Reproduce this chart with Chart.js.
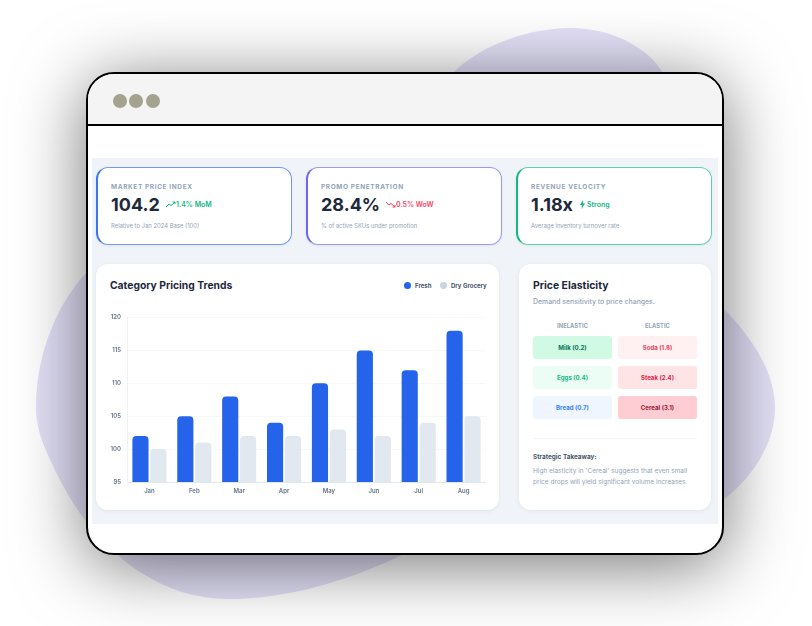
<!DOCTYPE html>
<html>
<head>
<meta charset="utf-8">
<script src="https://cdn.jsdelivr.net/npm/chart.js@4"></script>
<style>
  * { box-sizing: border-box; margin: 0; padding: 0; }
  body { width: 812px; height: 626px; background: #fff; font-family: Inter, sans-serif; position: relative; overflow: hidden; }
  .blob { position: absolute; left: 0; top: 0; }
  .window { position: absolute; left: 86px; top: 72px; width: 638px; height: 483px; background: #fff; border: 2px solid #000; border-radius: 28px; box-shadow: 0 10px 70px rgba(0,0,0,.55); overflow: hidden; }
  .bar { position: absolute; left: 0; top: 0; width: 100%; height: 52px; background: #f4f4f4; border-bottom: 2px solid #000; }
  .dot { position: absolute; top: 20px; width: 14px; height: 14px; border-radius: 50%; background: #a3a38f; }
  .dash { position: absolute; left: 4px; top: 84px; width: 626px; height: 366px; background: #f0f4f9; }
  .abs { position: absolute; white-space: nowrap; }
  .kpi { position: absolute; top: 167px; width: 196px; height: 78px; background: #fff; border: 1px solid; border-left-width: 2px; border-radius: 12px; box-shadow: 0 1px 3px rgba(30,41,59,.06); }
  .kpi .lab { position: absolute; left: 13px; top: 14.500px; font-size: 6.500px; font-weight: 700; letter-spacing: .62px; color: #94a3b8; white-space: nowrap; }
  .kpi .val { position: absolute; left: 13px; top: 25px; font-size: 18px; font-weight: 700; line-height: 24px; color: #1e293b; white-space: nowrap; }
  .kpi .chg { position: absolute; top: 32px; font-size: 7px; font-weight: 600; line-height: 10px; white-space: nowrap; }
  .kpi .chg svg { position: absolute; left: -10px; top: 1px; }
  .kpi .sub { position: absolute; left: 13px; top: 54px; font-size: 5.900px; color: #94a3b8; white-space: nowrap; }
  .card { position: absolute; top: 264px; height: 246px; background: #fff; border-radius: 12px; box-shadow: 0 1px 4px rgba(30,41,59,.07); }
  .cell { position: absolute; width: 79px; height: 23px; border-radius: 3px; font-size: 6.100px; font-weight: 700; line-height: 23px; text-align: center; }
  .head { font-size: 5.700px; font-weight: 700; color: #94a3b8; letter-spacing: .1px; text-align: center; width: 79px; }
  .sw { position: absolute; top: 282px; width: 7px; height: 7px; border-radius: 50%; }
  .lg { font-size: 6px; font-weight: 700; color: #475569; }
</style>
</head>
<body>
<svg class="blob" width="812" height="626">
  <path fill="#e4e1f8" d="M453 73 C480 45 530 28 570 28 C615 28 650 50 663 73 C690 130 700 270 723 308 C755 340 775 375 775 408 C775 445 750 480 723 500 C650 530 480 530 404 554 C340 585 280 599 228 599 C150 599 90 540 60 480 C45 450 36 430 36 408 C36 350 60 300 87 272 Z"/>
</svg>
<div class="window">
  <div class="bar">
    <div class="dot" style="left:25px"></div>
    <div class="dot" style="left:41px"></div>
    <div class="dot" style="left:58px"></div>
  </div>
  <div class="dash"></div>
</div>

<div class="kpi" style="left:96px;border-color:#6f9bf5 #6f9bf5 #6f9bf5 #3b76f0">
  <div class="lab">MARKET PRICE INDEX</div>
  <div class="val">104.2</div>
  <div class="chg" style="left:78px;color:#10b981">
    <svg width="10" height="7" viewBox="0 0 10 7" fill="none" stroke="#10b981" stroke-width="1"><path d="M0 6 L3 3 L5 4.500 L9 1 M6.500 1 H9 V3"/></svg>1.4% MoM</div>
  <div class="sub">Relative to Jan 2024 Base (100)</div>
</div>
<div class="kpi" style="left:306px;border-color:#9a97f5 #9a97f5 #9a97f5 #6d68ef">
  <div class="lab">PROMO PENETRATION</div>
  <div class="val">28.4%</div>
  <div class="chg" style="left:88px;color:#f43f5e">
    <svg width="10" height="7" viewBox="0 0 10 7" fill="none" stroke="#f43f5e" stroke-width="1"><path d="M0 1 L3 4 L5 2.500 L9 6 M6.500 6 H9 V4"/></svg>0.5% WoW</div>
  <div class="sub">% of active SKUs under promotion</div>
</div>
<div class="kpi" style="left:516px;border-color:#5fd0ab #5fd0ab #5fd0ab #10b981">
  <div class="lab">REVENUE VELOCITY</div>
  <div class="val">1.18x</div>
  <div class="chg" style="left:69px;color:#10b981">
    <svg width="7" height="9" viewBox="0 0 7 9" style="left:-8px;top:0"><path fill="#10b981" d="M4 0 L1 5 H3 L2.500 9 L6 3.500 H4 Z"/></svg>Strong</div>
  <div class="sub">Average inventory turnover rate</div>
</div>

<div class="card" style="left:96px;width:403px"></div>
<div class="abs" style="left:110px;top:279px;font-size:10.300px;font-weight:700;line-height:13px;color:#1e293b">Category Pricing Trends</div>
<div class="sw" style="left:404px;background:#2563eb"></div>
<div class="abs lg" style="left:415px;top:282px;line-height:7px">Fresh</div>
<div class="sw" style="left:440px;background:#cbd5e1"></div>
<div class="abs lg" style="left:451px;top:282px;line-height:7px">Dry Grocery</div>
<canvas id="priceChart" width="381" height="197" style="position:absolute;left:105px;top:308px"></canvas>

<div class="card" style="left:519px;width:192px"></div>
<div class="abs" style="left:533px;top:279px;font-size:10.400px;font-weight:700;line-height:13px;color:#1e293b">Price Elasticity</div>
<div class="abs" style="left:533px;top:297px;font-size:6.900px;font-weight:500;color:#94a3b8">Demand sensitivity to price changes.</div>
<div class="abs head" style="left:533px;top:321.500px">INELASTIC</div>
<div class="abs head" style="left:618px;top:321.500px">ELASTIC</div>
<div class="cell" style="left:533px;top:336px;background:#d1fae5;color:#047857">Milk (0.2)</div>
<div class="cell" style="left:618px;top:336px;background:#fff1f2;color:#f43f5e">Soda (1.8)</div>
<div class="cell" style="left:533px;top:366px;background:#ecfdf5;color:#10b981">Eggs (0.4)</div>
<div class="cell" style="left:618px;top:366px;background:#ffe4e6;color:#e11d48">Steak (2.4)</div>
<div class="cell" style="left:533px;top:396px;background:#eff6ff;color:#3b82f6">Bread (0.7)</div>
<div class="cell" style="left:618px;top:396px;background:#fecdd3;color:#9f1239">Cereal (3.1)</div>
<div class="abs" style="left:533px;top:438px;width:164px;height:1px;background:#f1f5f9"></div>
<div class="abs" style="left:533px;top:453px;font-size:6.400px;font-weight:700;color:#475569">Strategic Takeaway:</div>
<div class="abs" style="left:533px;top:466px;font-size:6.500px;line-height:11px;color:#94a3b8">High elasticity in 'Cereal' suggests that even small<br>price drops will yield significant volume increases.</div>

<script>
const months = ['Jan', 'Feb', 'Mar', 'Apr', 'May', 'Jun', 'Jul', 'Aug'];
const fresh = [102, 105, 108, 104, 110, 115, 112, 118];
const dryGrocery = [100, 101, 102, 102, 103, 102, 104, 105];

const tickFont = { family: 'Inter', size: 6, weight: '600' };

new Chart(document.getElementById('priceChart').getContext('2d'), {
    type: 'bar',
    data: {
        labels: months,
        datasets: [
            { label: 'Fresh', data: fresh, backgroundColor: '#2563eb', borderRadius: { topLeft: 4, topRight: 4 }, borderSkipped: false },
            { label: 'Dry Grocery', data: dryGrocery, backgroundColor: '#e2e8f0', borderRadius: { topLeft: 4, topRight: 4 }, borderSkipped: false }
        ]
    },
    options: {
        responsive: false,
        animation: false,
        layout: { padding: { top: 1 } },
        plugins: { legend: { display: false } },
        scales: {
            x: {
                grid: { display: false, drawTicks: false },
                border: { color: '#e2e8f0' },
                ticks: { color: '#64748b', font: tickFont, padding: 6 },
                afterFit: axis => { axis.height = 23; }
            },
            y: {
                min: 95,
                max: 120,
                grid: { color: '#f6f8fa', drawTicks: false },
                border: { color: '#eef2f6' },
                ticks: { stepSize: 5, color: '#64748b', font: tickFont, padding: 6 },
                afterFit: axis => { axis.width = 22; }
            }
        }
    }
});
</script>
</body>
</html>
